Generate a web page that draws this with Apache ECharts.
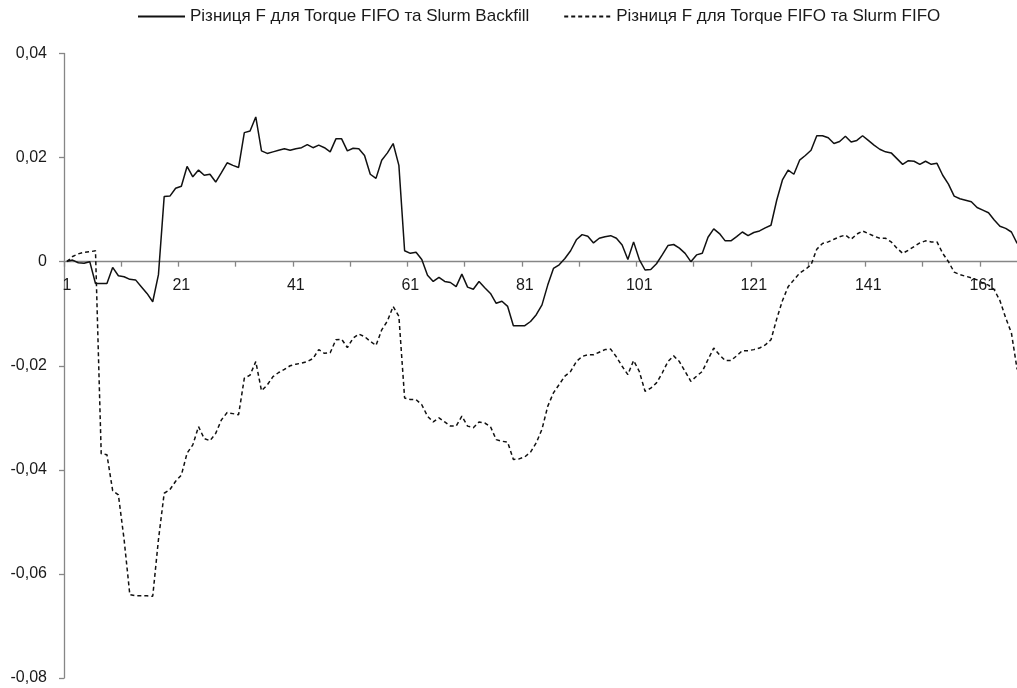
<!DOCTYPE html>
<html>
<head>
<meta charset="utf-8">
<script src="https://cdn.jsdelivr.net/npm/echarts@6/dist/echarts.min.js"></script>
<style>
  html, body { margin: 0; padding: 0; background: #ffffff; }
  #chart { width: 1017px; height: 688px; }
</style>
</head>
<body>
<div id="chart"></div>
<script>
// Series names shown in the legend
const seriesNames = [
  'Різниця F для Torque FIFO та Slurm Backfill',
  'Різниця F для Torque FIFO та Slurm FIFO'
];

// Difference F: Torque FIFO vs Slurm Backfill (points 1..167)
const diffBackfill = [
  0.0001, 0.0003, -0.0002, -0.0003, 0.0000, -0.0042, -0.0042, -0.0042, -0.0011, -0.0027,
  -0.0029, -0.0034, -0.0035, -0.0048, -0.0061, -0.0077, -0.0025, 0.0125, 0.0126, 0.0141,
  0.0145, 0.0183, 0.0163, 0.0176, 0.0166, 0.0168, 0.0153, 0.0171, 0.0190, 0.0185,
  0.0181, 0.0248, 0.0251, 0.0278, 0.0213, 0.0208, 0.0211, 0.0214, 0.0217, 0.0214,
  0.0217, 0.0219, 0.0225, 0.0219, 0.0224, 0.0219, 0.0211, 0.0236, 0.0236, 0.0213,
  0.0218, 0.0217, 0.0204, 0.0168, 0.0160, 0.0195, 0.0209, 0.0227, 0.0185, 0.0021,
  0.0016, 0.0018, 0.0004, -0.0026, -0.0038, -0.0030, -0.0038, -0.0040, -0.0048, -0.0024,
  -0.0049, -0.0053, -0.0038, -0.0050, -0.0061, -0.0080, -0.0076, -0.0086, -0.0123, -0.0123,
  -0.0123, -0.0115, -0.0102, -0.0083, -0.0045, -0.0013, -0.0006, 0.0006, 0.0021, 0.0042,
  0.0052, 0.0049, 0.0036, 0.0045, 0.0048, 0.0050, 0.0045, 0.0032, 0.0004, 0.0038,
  0.0004, -0.0016, -0.0015, -0.0004, 0.0013, 0.0031, 0.0033, 0.0026, 0.0016, 0.0000,
  0.0013, 0.0016, 0.0047, 0.0063, 0.0054, 0.0040, 0.0040, 0.0048, 0.0057, 0.0050,
  0.0056, 0.0059, 0.0065, 0.0070, 0.0118, 0.0157, 0.0176, 0.0168, 0.0195, 0.0204,
  0.0214, 0.0242, 0.0242, 0.0238, 0.0227, 0.0231, 0.0241, 0.0230, 0.0233, 0.0242,
  0.0233, 0.0224, 0.0216, 0.0211, 0.0209, 0.0198, 0.0187, 0.0194, 0.0193, 0.0187,
  0.0193, 0.0187, 0.0189, 0.0166, 0.0149, 0.0126, 0.0121, 0.0118, 0.0115, 0.0104,
  0.0099, 0.0094, 0.0080, 0.0068, 0.0064, 0.0057, 0.0035
];

// Difference F: Torque FIFO vs Slurm FIFO (points 1..167)
const diffFifo = [
  0.0000, 0.0010, 0.0015, 0.0018, 0.0019, 0.0021, -0.0369, -0.0371, -0.0440, -0.0448,
  -0.0534, -0.0640, -0.0642, -0.0642, -0.0642, -0.0643, -0.0534, -0.0445, -0.0438, -0.0422,
  -0.0410, -0.0368, -0.0352, -0.0317, -0.0340, -0.0344, -0.0330, -0.0304, -0.0290, -0.0292,
  -0.0294, -0.0224, -0.0218, -0.0192, -0.0248, -0.0237, -0.0221, -0.0213, -0.0207, -0.0200,
  -0.0197, -0.0195, -0.0192, -0.0186, -0.0169, -0.0176, -0.0175, -0.0150, -0.0149, -0.0165,
  -0.0147, -0.0139, -0.0144, -0.0153, -0.0161, -0.0131, -0.0114, -0.0086, -0.0105, -0.0262,
  -0.0265, -0.0265, -0.0275, -0.0297, -0.0308, -0.0300, -0.0308, -0.0316, -0.0316, -0.0297,
  -0.0316, -0.0319, -0.0308, -0.0310, -0.0317, -0.0342, -0.0345, -0.0347, -0.0380, -0.0379,
  -0.0375, -0.0366, -0.0348, -0.0322, -0.0278, -0.0252, -0.0236, -0.0220, -0.0211, -0.0192,
  -0.0182, -0.0179, -0.0179, -0.0174, -0.0169, -0.0168, -0.0183, -0.0201, -0.0217, -0.0190,
  -0.0211, -0.0249, -0.0243, -0.0233, -0.0214, -0.0192, -0.0181, -0.0192, -0.0211, -0.0230,
  -0.0220, -0.0211, -0.0188, -0.0166, -0.0179, -0.0190, -0.0190, -0.0181, -0.0171, -0.0171,
  -0.0169, -0.0166, -0.0160, -0.0150, -0.0110, -0.0075, -0.0048, -0.0035, -0.0022, -0.0015,
  -0.0006, 0.0024, 0.0035, 0.0038, 0.0043, 0.0048, 0.0051, 0.0043, 0.0053, 0.0059,
  0.0054, 0.0049, 0.0045, 0.0045, 0.0038, 0.0026, 0.0016, 0.0022, 0.0029, 0.0036,
  0.0040, 0.0038, 0.0038, 0.0016, 0.0000, -0.0020, -0.0025, -0.0028, -0.0031, -0.0035,
  -0.0041, -0.0045, -0.0054, -0.0075, -0.0108, -0.0137, -0.0207
];

// Category labels: point numbers 1..167
const categories = diffBackfill.map((_, i) => String(i + 1));

// Value axis range
const yMin = -0.08;
const yMax = 0.04;
const yStep = 0.02;

const FONT = '"Liberation Sans", Arial, sans-serif';
const AXIS_GRAY = '#868686';
const TEXT = '#1a1a1a';
const LINE = '#111111';

// Plot area (px)
const GRID_TOP = 53.5;
const GRID_BOTTOM = 10;
const CHART_H = 688;

// The category axis sits on the zero line: shift it up from the grid bottom
const plotH = CHART_H - GRID_TOP - GRID_BOTTOM;
const zeroShift = plotH * (0 - yMin) / (yMax - yMin);

const chart = echarts.init(document.getElementById('chart'), null, { renderer: 'canvas' });

chart.setOption({
  animation: false,
  backgroundColor: '#ffffff',
  textStyle: { fontFamily: FONT },
  legend: {
    show: true,
    top: 8,
    left: 137,
    padding: 0,
    itemWidth: 47,
    itemHeight: 14,
    itemGap: 34,
    itemStyle: { opacity: 0 },
    textStyle: { fontFamily: FONT, fontSize: 17, color: TEXT },
    data: [seriesNames[0], seriesNames[1]]
  },
  grid: {
    left: 64,
    right: -3,
    top: GRID_TOP,
    bottom: GRID_BOTTOM,
    containLabel: false,
    outerBoundsMode: 'none'
  },
  xAxis: {
    type: 'category',
    data: categories,
    boundaryGap: true,
    position: 'bottom',
    offset: -zeroShift,
    axisLine: { onZero: false, lineStyle: { color: AXIS_GRAY, width: 1.3 } },
    axisTick: {
      show: true,
      length: 5,
      interval: (idx) => idx % 10 === 0,
      lineStyle: { color: AXIS_GRAY, width: 1.3 }
    },
    axisLabel: {
      interval: (idx) => idx % 20 === 0,
      margin: 16,
      fontFamily: FONT,
      fontSize: 16,
      color: TEXT
    },
    splitLine: { show: false }
  },
  yAxis: {
    type: 'value',
    min: yMin,
    max: yMax,
    interval: yStep,
    axisLine: { show: true, lineStyle: { color: AXIS_GRAY, width: 1.3 } },
    axisTick: { show: true, length: 5, lineStyle: { color: AXIS_GRAY, width: 1.3 } },
    axisLabel: {
      margin: 17,
      fontFamily: FONT,
      fontSize: 16,
      color: TEXT,
      formatter: (v) => {
        const r = Math.round(v * 100) / 100;
        return r === 0 ? '0' : r.toFixed(2).replace('.', ',');
      }
    },
    splitLine: { show: false }
  },
  series: [
    {
      name: seriesNames[0],
      type: 'line',
      data: diffBackfill,
      symbol: 'none',
      smooth: false,
      lineStyle: { color: LINE, width: 1.5, type: 'solid' },
      itemStyle: { color: LINE },
      z: 3
    },
    {
      name: seriesNames[1],
      type: 'line',
      data: diffFifo,
      symbol: 'none',
      smooth: false,
      lineStyle: { color: LINE, width: 1.5, type: [4, 3] },
      itemStyle: { color: LINE },
      z: 2
    }
  ]
});
</script>
</body>
</html>
